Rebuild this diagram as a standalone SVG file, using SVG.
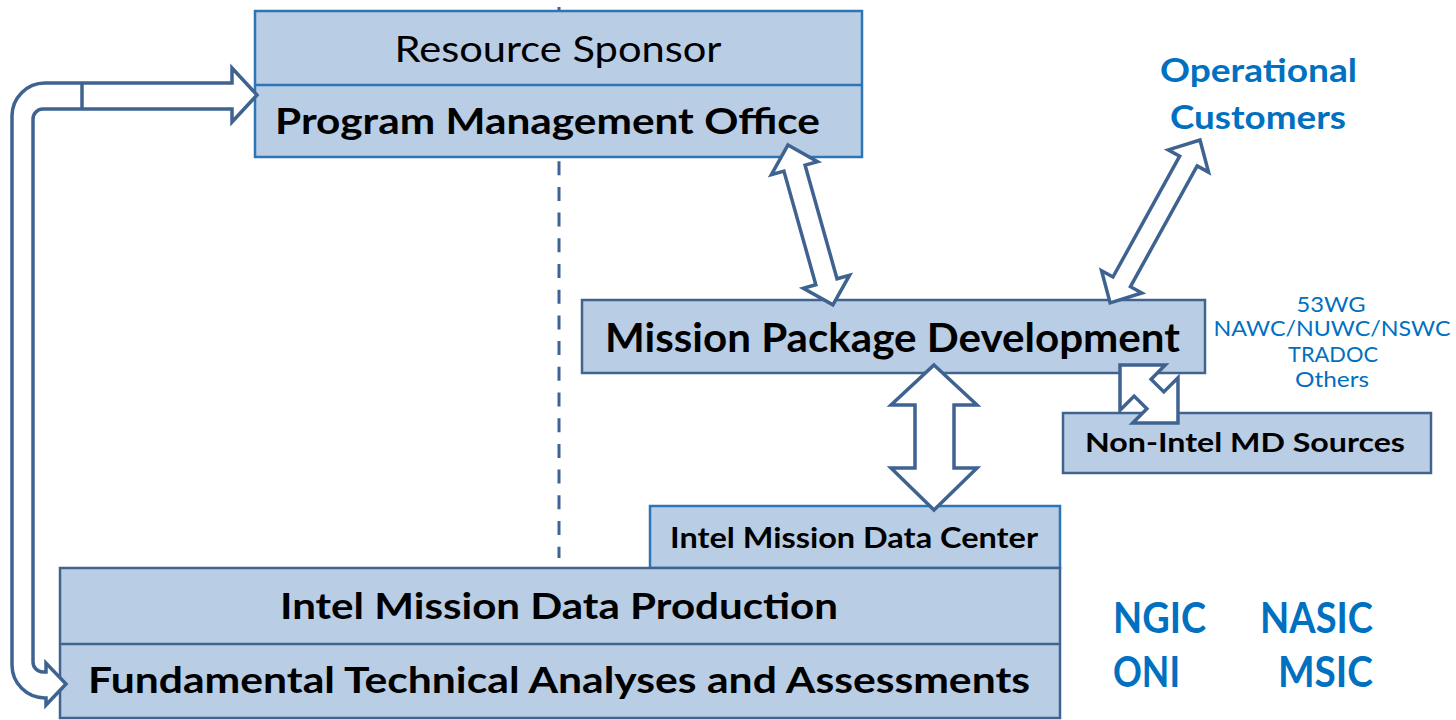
<svg xmlns="http://www.w3.org/2000/svg" width="1456" height="720" viewBox="0 0 1456 720">
<style>
.box{fill:#B9CDE5;stroke-width:2.5}
.bb{stroke:#2E75B6}
.db{stroke:#41648F}
.arr{fill:#FFFFFF;stroke:#3F6391;stroke-width:3.5;stroke-linejoin:miter}
.t{font-family:Lato,"Open Sans","Liberation Sans",sans-serif;fill:#000}
.b{font-weight:bold}
.blue{font-family:Lato,"Open Sans","Liberation Sans",sans-serif;fill:#0070C0}
</style>
<rect width="1456" height="720" fill="#FFFFFF"/>
<line id="divider" x1="559" y1="7" x2="559" y2="558" stroke="#3E6496" stroke-width="3" stroke-dasharray="14,11.7"/>
<g id="resource-sponsor-pmo">
<rect class="box bb" x="255" y="11" width="607" height="146"/>
<line x1="255" y1="85" x2="862" y2="85" stroke="#2E75B6" stroke-width="2.5"/>
<text class="t" x="558" y="62" font-size="37" text-anchor="middle" textLength="327" lengthAdjust="spacingAndGlyphs">Resource Sponsor</text>
<text class="t b" x="275" y="134" font-size="37" textLength="545" lengthAdjust="spacingAndGlyphs">Program Management Office</text>
</g>
<g id="mission-package-development">
<rect class="box db" x="582" y="300" width="623" height="73"/>
<text class="t b" x="605" y="352" font-size="40" textLength="575" lengthAdjust="spacingAndGlyphs">Mission Package Development</text>
</g>
<g id="non-intel-md-sources">
<rect class="box db" x="1063" y="413" width="368" height="60"/>
<text class="t b" x="1085" y="452" font-size="27" textLength="320" lengthAdjust="spacingAndGlyphs">Non-Intel MD Sources</text>
</g>
<g id="intel-mission-data-center">
<rect class="box bb" x="650" y="506" width="410" height="62"/>
<text class="t b" x="670" y="548" font-size="28" textLength="368" lengthAdjust="spacingAndGlyphs">Intel Mission Data Center</text>
</g>
<g id="intel-mission-data-production">
<rect class="box db" x="60" y="568" width="1000" height="150"/>
<line x1="60" y1="644" x2="1060" y2="644" stroke="#41648F" stroke-width="2.5"/>
<text class="t b" x="280" y="619" font-size="37" textLength="558" lengthAdjust="spacingAndGlyphs">Intel Mission Data Production</text>
<text class="t b" x="88" y="693" font-size="36" textLength="942" lengthAdjust="spacingAndGlyphs">Fundamental Technical Analyses and Assessments</text>
</g>
<g id="operational-customers">
<text class="blue b" x="1160" y="82" font-size="33" textLength="197" lengthAdjust="spacingAndGlyphs">Operational</text>
<text class="blue b" x="1170" y="129" font-size="33" textLength="176" lengthAdjust="spacingAndGlyphs">Customers</text>
</g>
<g id="non-intel-list">
<text class="blue" x="1331" y="312" font-size="21" text-anchor="middle" textLength="69" lengthAdjust="spacingAndGlyphs">53WG</text>
<text class="blue" x="1332" y="336" font-size="21" text-anchor="middle" textLength="237" lengthAdjust="spacingAndGlyphs">NAWC/NUWC/NSWC</text>
<text class="blue" x="1333" y="362" font-size="21" text-anchor="middle" textLength="90" lengthAdjust="spacingAndGlyphs">TRADOC</text>
<text class="blue" x="1332" y="387" font-size="21" text-anchor="middle" textLength="74" lengthAdjust="spacingAndGlyphs">Others</text>
</g>
<g id="intel-centers">
<text class="blue b" x="1113" y="633" font-size="42" textLength="93" lengthAdjust="spacingAndGlyphs">NGIC</text>
<text class="blue b" x="1260" y="633" font-size="42" textLength="113" lengthAdjust="spacingAndGlyphs">NASIC</text>
<text class="blue b" x="1113" y="687" font-size="42" textLength="67" lengthAdjust="spacingAndGlyphs">ONI</text>
<text class="blue b" x="1278" y="687" font-size="42" textLength="95" lengthAdjust="spacingAndGlyphs">MSIC</text>
</g>
<g id="connectors">
<path class="arr" d="M232,68 L257,95 L232,122 L232,109 L43,109 A10,10 0 0 0 33,119 L33,662 A10,10 0 0 0 43,672 L46,672 L46,663 L66,684 L46,705 L46,698 L45,698 A33,33 0 0 1 12,665 L12,116 A33,33 0 0 1 45,83 L232,83 Z"/>
<line x1="82" y1="83" x2="82" y2="109" stroke="#3F6391" stroke-width="3.5"/>
<polygon class="arr" transform="translate(788,145) rotate(74.3)" points="0,0 24,-24 24,-11 142,-11 142,-24 166,0 142,24 142,11 24,11 24,24"/>
<polygon class="arr" transform="translate(1200,140) rotate(118.9)" points="0,0 24,-23 24,-10 162,-10 162,-23 186,0 162,23 162,10 24,10 24,23"/>
<polygon class="arr" points="934,365 977,405 954,405 954,468 977,468 934,510 891,468 915,468 915,405 891,405"/>
<polygon class="arr" transform="translate(1120,365) rotate(45)" points="0,0 32,-32 32,-12 50,-12 50,-32 82,0 50,32 50,12 32,12 32,32"/>
</g>
</svg>
